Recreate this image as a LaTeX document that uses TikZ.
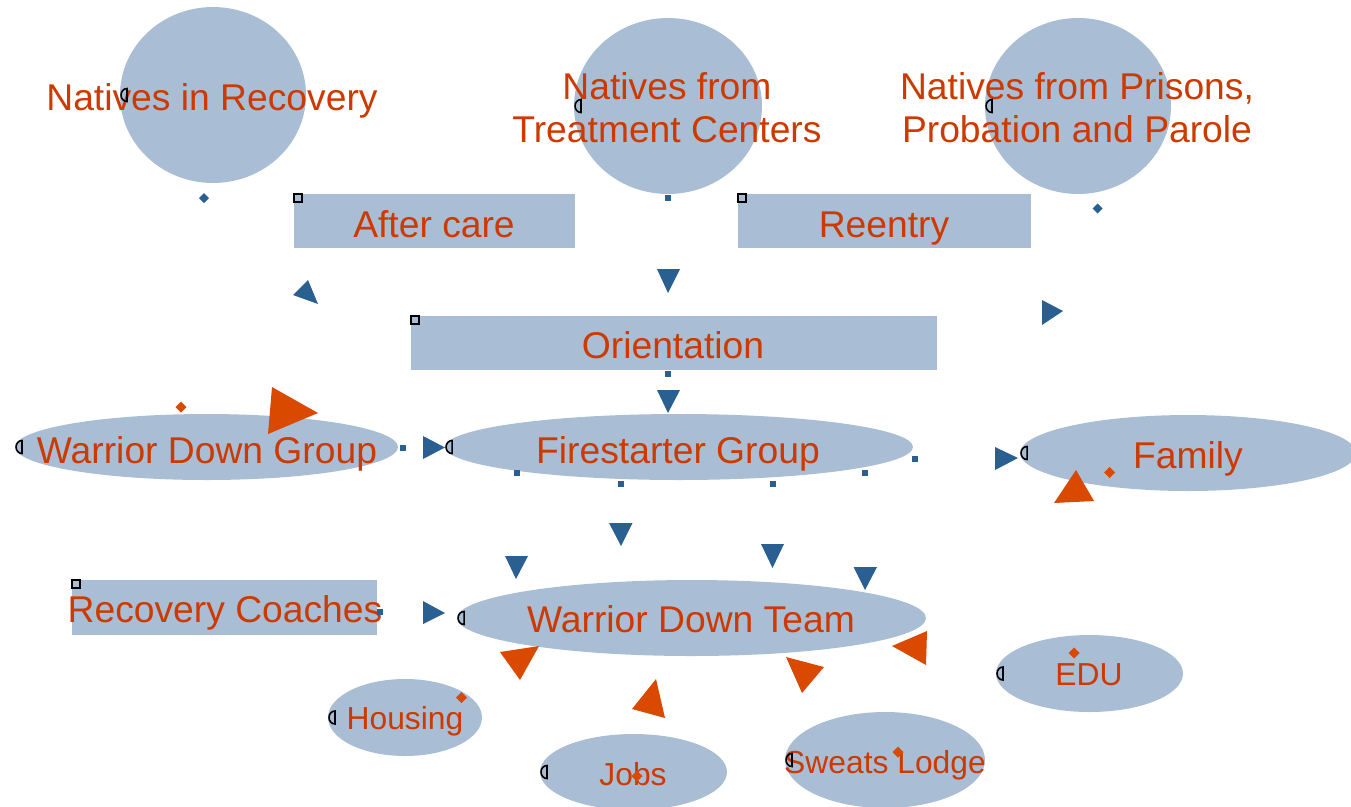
\documentclass[tikz,border=0pt]{standalone}
\usepackage{fontspec}
\setmainfont{Liberation Sans}
\usetikzlibrary{shapes.geometric}
\definecolor{blobfill}{HTML}{A9BDD4}
\definecolor{txtred}{HTML}{CC3A00}
\definecolor{tipblue}{HTML}{2A5F91}
\definecolor{tiporange}{HTML}{D94A00}

\begin{document}
\begin{tikzpicture}[
            x = 0.02cm, % one pixel of the sketch
            y = -0.02cm, % y grows downwards
            every node/.style = {inner sep = 0pt, outer sep = 0pt}
        ]

        \tikzstyle{blob}=[
            ellipse,
            fill = blobfill
        ]
        \tikzstyle{bar}=[
            rectangle,
            fill = blobfill
        ]
        \tikzstyle{bigtxt}=[text = txtred, font = \fontsize{21.2}{24.5}\selectfont]
        \tikzstyle{smalltxt}=[text = txtred, font = \fontsize{18.1}{21}\selectfont]
        \tikzstyle{hcap}=[draw = black, line width = 0.9pt]
        \tikzstyle{sqmk}=[draw = black, line width = 0.9pt]

        \useasboundingbox (0,0) rectangle (1351,806);
        \clip (0,0) rectangle (1351,806);

        % sources
        \node[blob, minimum width = 3.72cm, minimum height = 3.52cm] (nr) at (213,95) {};
        \node[blob, minimum width = 3.76cm, minimum height = 3.52cm] (ntc) at (668,106) {};
        \node[blob, minimum width = 3.72cm, minimum height = 3.52cm] (npp) at (1078,106) {};
        \node[bar, minimum width = 5.62cm, minimum height = 1.08cm] (ac) at (434.5,221) {};
        \node[bar, minimum width = 5.86cm, minimum height = 1.08cm] (re) at (884.5,221) {};
        \node[bar, minimum width = 10.52cm, minimum height = 1.08cm] (ori) at (674,343) {};

        % groups
        \node[blob, minimum width = 7.66cm, minimum height = 1.32cm] (wdg) at (206.5,447) {};
        \node[blob, minimum width = 9.36cm, minimum height = 1.32cm] (fsg) at (679,447) {};
        \node[blob, minimum width = 6.72cm, minimum height = 1.52cm] (fam) at (1188,453) {};
        \node[bar, minimum width = 6.10cm, minimum height = 1.10cm] (rc) at (224.5,607.5) {};
        \node[blob, minimum width = 9.38cm, minimum height = 1.52cm] (wdt) at (691.5,618) {};

        % services
        \node[blob, minimum width = 3.74cm, minimum height = 1.54cm] (edu) at (1089.5,673.5) {};
        \node[blob, minimum width = 3.08cm, minimum height = 1.54cm] (hou) at (405,717.5) {};
        \node[blob, minimum width = 3.74cm, minimum height = 1.52cm] (job) at (633.5,772) {};
        \node[blob, minimum width = 4.00cm, minimum height = 1.92cm] (swl) at (885,760) {};

        % texts
        \node[bigtxt, anchor = base] (nrT) at (212,110) {Natives in Recovery};
        \node[bigtxt, align = center] (ntcT) at (667,108) {Natives from\\Treatment Centers};
        \node[bigtxt, align = center] (nppT) at (1077,108) {Natives from Prisons,\\Probation and Parole};
        \node[bigtxt, anchor = base] (acT) at (434,237) {After care};
        \node[bigtxt, anchor = base] (reT) at (884,237) {Reentry};
        \node[bigtxt, anchor = base] (oriT) at (673,358) {Orientation};
        \node[bigtxt, anchor = base] (wdgT) at (207,463) {Warrior Down Group};
        \node[bigtxt, anchor = base] (fsgT) at (678,463) {Firestarter Group};
        \node[bigtxt, anchor = base] (famT) at (1188,468) {Family};
        \node[bigtxt, anchor = base] (rcT) at (225,622) {Recovery Coaches};
        \node[bigtxt, anchor = base] (wdtT) at (691,632) {Warrior Down Team};
        \node[smalltxt, anchor = base] (eduT) at (1089,685) {EDU};
        \node[smalltxt, anchor = base] (houT) at (405,729) {Housing};
        \node[smalltxt, anchor = base] (jobT) at (633,785) {Jobs};
        \node[smalltxt, anchor = base] (swlT) at (885,773) {Sweats Lodge};

        % little half moons on the round shapes
        \foreach \n in {nr,ntc,npp,wdg,fsg,fam,wdt,edu,hou,job,swl}
            \draw[hcap] ([xshift = 0.14cm, yshift = -0.13cm]\n.west)
                arc[start angle = 90, end angle = 270, x radius = 6, y radius = 6.5] -- cycle;

        % little squares on the bars
        \foreach \n in {ac,re,ori,rc}
            \draw[sqmk] (\n.north west) rectangle +(8,8);

        % blue tails
        \fill[tipblue, shift = {(204,198)}] (-5,0) -- (0,-5) -- (5,0) -- (0,5) -- cycle;
        \fill[tipblue, shift = {(1097.5,208.5)}] (-5,0) -- (0,-5) -- (5,0) -- (0,5) -- cycle;
        \foreach \p/\q in {668/198, 668/374, 403/448, 516.5/473, 620.7/484, 772.8/484, 865/473, 915/459, 380/612}
            \fill[tipblue] (\p-3,\q-3) rectangle (\p+3,\q+3);

        % blue heads
        \fill[tipblue] (293,295) -- (308,280) -- (318,304) -- cycle;
        \fill[tipblue] (657,269) -- (680,269) -- (668,293) -- cycle;
        \fill[tipblue] (1042,300) -- (1063,311) -- (1042,325) -- cycle;
        \fill[tipblue] (657,390) -- (680,390) -- (668,413) -- cycle;
        \fill[tipblue] (423,436) -- (445,447.5) -- (423,459) -- cycle;
        \fill[tipblue] (995,447) -- (1018,458) -- (995,470) -- cycle;
        \fill[tipblue] (609,523) -- (632.5,523) -- (621,546) -- cycle;
        \fill[tipblue] (505,556) -- (528,556) -- (516,579) -- cycle;
        \fill[tipblue] (761,544) -- (784,544) -- (772.5,568) -- cycle;
        \fill[tipblue] (853.5,567) -- (877,567) -- (865,590) -- cycle;
        \fill[tipblue] (423,601) -- (445,613) -- (423,624) -- cycle;

        % orange tails
        \foreach \p/\q in {181/407, 1109.5/472.5, 1074/653, 461.5/697.5, 637/776, 898/752}
            \fill[tiporange, shift = {(\p,\q)}] (-5.5,0) -- (0,-5.5) -- (5.5,0) -- (0,5.5) -- cycle;

        % orange heads
        \fill[tiporange] (272,387) -- (318,413) -- (268,434) -- cycle;
        \fill[tiporange] (1076,470) -- (1094,501) -- (1054,503) -- cycle;
        \fill[tiporange] (500,652) -- (539,646) -- (520,680) -- cycle;
        \fill[tiporange] (656,679) -- (632,709) -- (665,718) -- cycle;
        \fill[tiporange] (786,657) -- (824,667) -- (802,693) -- cycle;
        \fill[tiporange] (927,631) -- (892,646) -- (926,665) -- cycle;
    \end{tikzpicture}
\end{document}
